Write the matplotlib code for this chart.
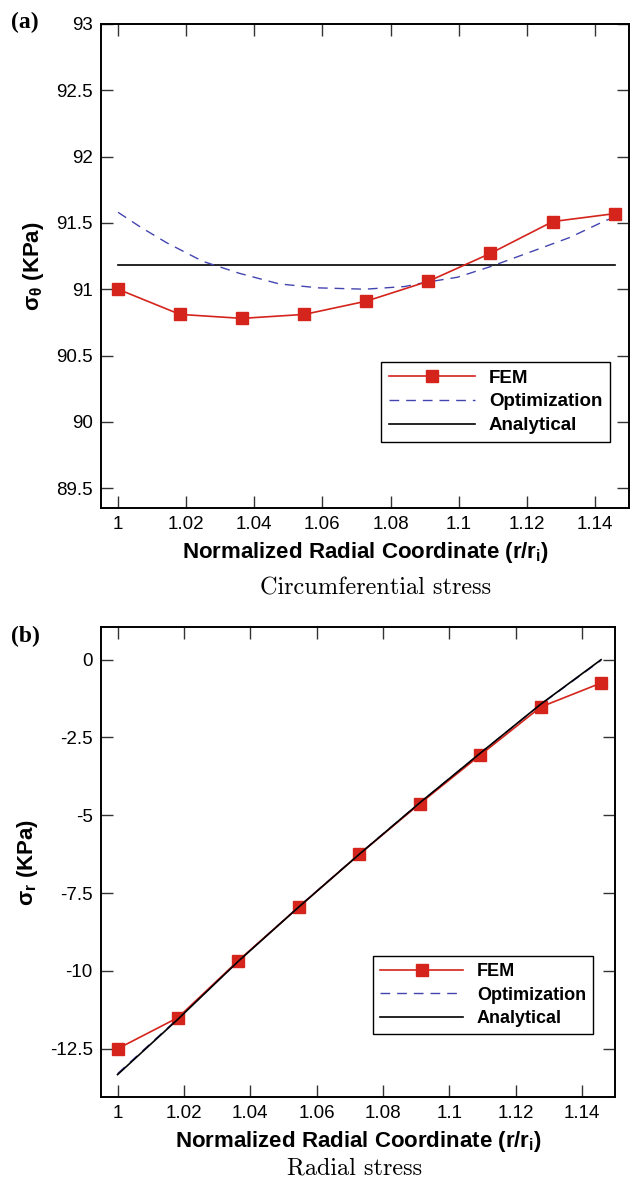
import matplotlib
matplotlib.use("Agg")
import matplotlib.pyplot as plt
from matplotlib.lines import Line2D

# ---------------- data ----------------
r_fem = [1.0, 1.0182, 1.0364, 1.0547, 1.0729, 1.0911, 1.1093, 1.1276, 1.1458]

# (a) circumferential stress
hoop_fem = [91.00, 90.81, 90.78, 90.81, 90.91, 91.06, 91.27, 91.51, 91.57]
r_opt_a = [1.0, 1.0065, 1.0143, 1.0249, 1.0356, 1.0473, 1.0589, 1.0725, 1.0841,
           1.0899, 1.0996, 1.1093, 1.121, 1.1326, 1.1433, 1.1458]
hoop_opt = [91.58, 91.47, 91.35, 91.21, 91.12, 91.04, 91.01, 91.00, 91.02,
            91.05, 91.09, 91.17, 91.28, 91.39, 91.52, 91.54]
r_ana_a = [1.0, 1.1458]
hoop_ana = [91.18, 91.18]

# (b) radial stress
rad_fem = [-12.5, -11.5, -9.67, -7.94, -6.25, -4.63, -3.07, -1.52, -0.75]
r_ana_b = [1.0, 1.0182, 1.0364, 1.0547, 1.0729, 1.0911, 1.1093, 1.1276, 1.1458]
rad_ana = [-13.33, -11.55, -9.69, -7.94, -6.25, -4.60, -3.01, -1.43, 0.0]
rad_opt = [-13.30, -11.53, -9.68, -7.93, -6.24, -4.60, -3.01, -1.44, -0.02]

xticks = [1.0, 1.02, 1.04, 1.06, 1.08, 1.1, 1.12, 1.14]
xticklabels = ["1", "1.02", "1.04", "1.06", "1.08", "1.1", "1.12", "1.14"]
yticks_a = [89.5, 90, 90.5, 91, 91.5, 92, 92.5, 93]
yticklabels_a = ["89.5", "90", "90.5", "91", "91.5", "92", "92.5", "93"]
yticks_b = [-12.5, -10, -7.5, -5, -2.5, 0]
yticklabels_b = ["-12.5", "-10", "-7.5", "-5", "-2.5", "0"]

# ---------------- style ----------------
plt.rcParams["font.family"] = ["Liberation Sans", "DejaVu Sans"]
plt.rcParams["mathtext.fontset"] = "custom"
plt.rcParams["mathtext.rm"] = "Liberation Sans"
plt.rcParams["mathtext.it"] = "Liberation Sans:italic"
plt.rcParams["mathtext.bf"] = "Liberation Sans:bold"

RED = "#d4241c"
BLUE = "#4444b0"
DASH = (0, (7, 5))
W, H = 634, 1180
fig = plt.figure(figsize=(W / 100, H / 100), dpi=100)


def px_axes(l, t, r, b):
    return fig.add_axes([l / W, 1 - b / H, (r - l) / W, (b - t) / H])


def style(ax, yt, ytl):
    ax.set_xticks(xticks)
    ax.set_xticklabels(xticklabels)
    ax.set_yticks(yt)
    ax.set_yticklabels(ytl)
    ax.tick_params(direction="in", length=8.5, width=1.0, top=True, right=True,
                   labelsize=13.5, pad=6, color="#333333")
    for s in ax.spines.values():
        s.set_linewidth(1.4)
    ax.set_xlabel("Normalized Radial Coordinate (r/r$_\\mathregular{i}$)",
                  fontsize=16, fontweight="bold", labelpad=5)


def legend(ax, x0, y0, size):
    handles = [
        Line2D([], [], color=RED, lw=1.2, marker="s", markersize=8.5),
        Line2D([], [], color=BLUE, lw=1.0, ls=DASH),
        Line2D([], [], color="black", lw=1.2),
    ]
    leg = ax.legend(handles, ["FEM", "Optimization", "Analytical"],
                    loc="upper left", bbox_to_anchor=(x0 / W, 1 - y0 / H),
                    bbox_transform=fig.transFigure, borderaxespad=0,
                    fancybox=False, framealpha=1, edgecolor="black",
                    prop={"weight": "bold", "size": size},
                    handlelength=4.6, handletextpad=0.75, labelspacing=0.36,
                    borderpad=0.4, markerfirst=True)
    leg.get_frame().set_linewidth(1.0)


# ---------------- (a) ----------------
axa = px_axes(101, 24, 629, 508)
axa.plot(r_ana_a, hoop_ana, color="black", lw=1.2, zorder=2)
axa.plot(r_opt_a, hoop_opt, color=BLUE, lw=1.0, ls=DASH, zorder=3)
axa.plot(r_fem, hoop_fem, color=RED, lw=1.2, marker="s", markersize=8.5, zorder=4)
axa.set_xlim(0.995, 1.15)
axa.set_ylim(89.35, 93)
style(axa, yticks_a, yticklabels_a)
axa.set_ylabel("σ$_\\mathregular{θ}$ (KPa)", fontsize=16, fontweight="bold", labelpad=7)
legend(axa, 381, 362, 13.5)

# ---------------- (b) ----------------
axb = px_axes(101, 627, 615, 1097)
axb.plot(r_ana_b, rad_opt, color=BLUE, lw=1.0, ls=DASH, zorder=2)
axb.plot(r_fem, rad_fem, color=RED, lw=1.2, marker="s", markersize=8.5, zorder=3)
axb.plot(r_ana_b, rad_ana, color="black", lw=1.2, zorder=4)
axb.set_xlim(0.995, 1.15)
axb.set_ylim(-14.05, 1.05)
style(axb, yticks_b, yticklabels_b)
axb.set_ylabel("σ$_\\mathregular{r}$ (KPa)", fontsize=16, fontweight="bold", labelpad=7)
legend(axb, 373, 956, 13)

# panel letters and captions
fig.text(11 / W, 1 - 22 / H, "(a)", fontsize=17, fontweight="bold",
         family="Liberation Serif", va="center", ha="left")
fig.text(11 / W, 1 - 636 / H, "(b)", fontsize=17, fontweight="bold",
         family="Liberation Serif", va="center", ha="left")
fig.text(376 / W, 1 - 588 / H, "Circumferential stress", fontsize=17.5,
         family="cmr10", ha="center", va="center")
fig.text(355 / W, 1 - 1168 / H, "Radial stress", fontsize=17.5,
         family="cmr10", ha="center", va="center")

fig.savefig("out.png", dpi=100)
